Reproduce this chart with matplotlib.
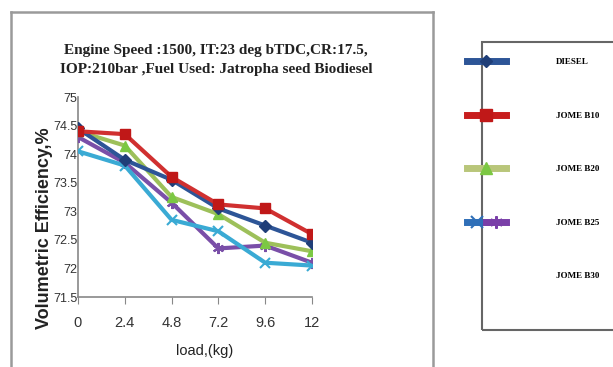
import matplotlib.pyplot as plt
from matplotlib.lines import Line2D
from matplotlib.patches import Rectangle
from matplotlib.legend_handler import HandlerTuple
from matplotlib.ticker import FormatStrFormatter

# data
loads = ["0", "2.4", "4.8", "7.2", "9.6", "12"]
diesel = [74.45, 73.9, 73.55, 73.05, 72.75, 72.45]
jome_b10 = [74.4, 74.35, 73.6, 73.12, 73.05, 72.6]
jome_b20 = [74.4, 74.15, 73.25, 72.95, 72.45, 72.3]
jome_b25 = [74.05, 73.8, 72.85, 72.65, 72.1, 72.05]
jome_b30 = [74.3, 73.85, 73.15, 72.35, 72.4, 72.1]
yticks = [71.5, 72, 72.5, 73, 73.5, 74, 74.5, 75]

title = "Engine Speed :1500, IT:23 deg bTDC,CR:17.5,\nIOP:210bar ,Fuel Used: Jatropha seed Biodiesel"
tickfont = ["Liberation Sans", "DejaVu Sans"]

fig = plt.figure(figsize=(6.13, 3.67), dpi=100)
ax = fig.add_axes([78 / 613, 1 - 297 / 367, 234 / 613, 200 / 367])

x = list(range(len(loads)))
lw = 3
ax.plot(x, jome_b30, color="#7A4FA8", lw=lw, marker=(6, 2, 0), ms=8, mew=1.5, zorder=3)
ax.plot(x, jome_b25, color="#3AAAD4", lw=lw, marker="x", ms=7, mew=1.5, zorder=3)
ax.plot(x, jome_b20, color="#9DC05A", lw=lw, marker="^", ms=7, mec="#7CC843", mfc="#7CC843", zorder=4)
ax.plot(x, diesel, color="#2D5597", lw=lw, marker="D", ms=6, mec="#1F3E78", mfc="#1F3E78", zorder=4)
ax.plot(x, jome_b10, color="#D03030", lw=lw, marker="s", ms=7, mec="#C01818", mfc="#C01818", zorder=5)

ax.set_xlim(0, len(loads) - 1)
ax.set_ylim(71.5, 75)
ax.set_xticks(x)
ax.set_xticklabels(loads, family=tickfont, fontsize=10.5, color="#333333")
ax.set_yticks(yticks)
ax.yaxis.set_major_formatter(FormatStrFormatter("%g"))
for lab in ax.get_yticklabels():
    lab.set_family(tickfont)
    lab.set_fontsize(9)
    lab.set_color("#333333")
ax.tick_params(axis="x", direction="out", length=5, pad=9, color="#888888")
ax.tick_params(axis="y", length=0, pad=0.5)
for side in ["top", "right"]:
    ax.spines[side].set_visible(False)
for side in ["left", "bottom"]:
    ax.spines[side].set_color("#888888")
    ax.spines[side].set_linewidth(1.2)

fig.text(45 / 613, 1 - 228 / 367, "Volumetric Efficiency,%", rotation=90,
         ha="center", va="center", fontsize=13, fontweight="bold",
         family=["Liberation Sans", "DejaVu Sans"], color="#222222")
fig.text(205 / 613, 1 - 351 / 367, "load,(kg)", ha="center", va="center",
         fontsize=10.5, family=tickfont, color="#222222")
fig.text(216 / 613, 1 - 60 / 367, title, ha="center", va="center",
         fontsize=11, family=["Liberation Serif", "DejaVu Serif"],
         fontweight="bold", linespacing=1.6, color="#222222")

# outer chart frame
frame_kw = dict(color="#9a9a9a", lw=1.8, transform=fig.transFigure)
fig.add_artist(Line2D([11 / 613, 11 / 613], [0, 1 - 12 / 367], **frame_kw))
fig.add_artist(Line2D([11 / 613, 433 / 613], [1 - 12 / 367, 1 - 12 / 367], **frame_kw))
fig.add_artist(Line2D([433 / 613, 433 / 613], [0, 1 - 12 / 367], **frame_kw))

# legend box
fig.add_artist(Rectangle((482 / 613, 1 - 330 / 367), 0.4, 288 / 367,
                         transform=fig.transFigure, fill=False,
                         edgecolor="#666666", lw=1.5))

h_diesel = Line2D([], [], color="#2D5597", lw=5, marker="D", ms=6, mec="#1F3E78", mfc="#1F3E78")
h_b10 = Line2D([], [], color="#C81E1E", lw=5, marker="s", ms=8, mec="#C01818", mfc="#C01818")
h_b20 = Line2D([], [], color="#B9C67A", lw=5, marker="^", ms=8, mec="#7CC843", mfc="#7CC843")
h_b25 = Line2D([], [], color="#2F6FB8", lw=5, marker="x", ms=8, mew=1.5)
h_b30 = Line2D([], [], color="#7A3FA8", lw=5, marker=(6, 2, 0), ms=9, mew=1.5)
h_none = Line2D([], [], color="none")

leg = fig.legend([h_diesel, h_b10, h_b20, (h_b25, h_b30), h_none],
                 ["DIESEL", "JOME B10", "JOME B20", "JOME B25", "JOME B30"],
                 handler_map={tuple: HandlerTuple(ndivide=2, pad=0)},
                 loc="upper left", bbox_to_anchor=(467 / 613, 1 - 58 / 367),
                 frameon=False, borderpad=0, borderaxespad=0,
                 handlelength=4.3, handletextpad=5.6, labelspacing=5.0,
                 prop={"family": ["Liberation Serif", "DejaVu Serif"],
                       "weight": "bold", "size": 6.5})

fig.savefig("out.png", dpi=100)
